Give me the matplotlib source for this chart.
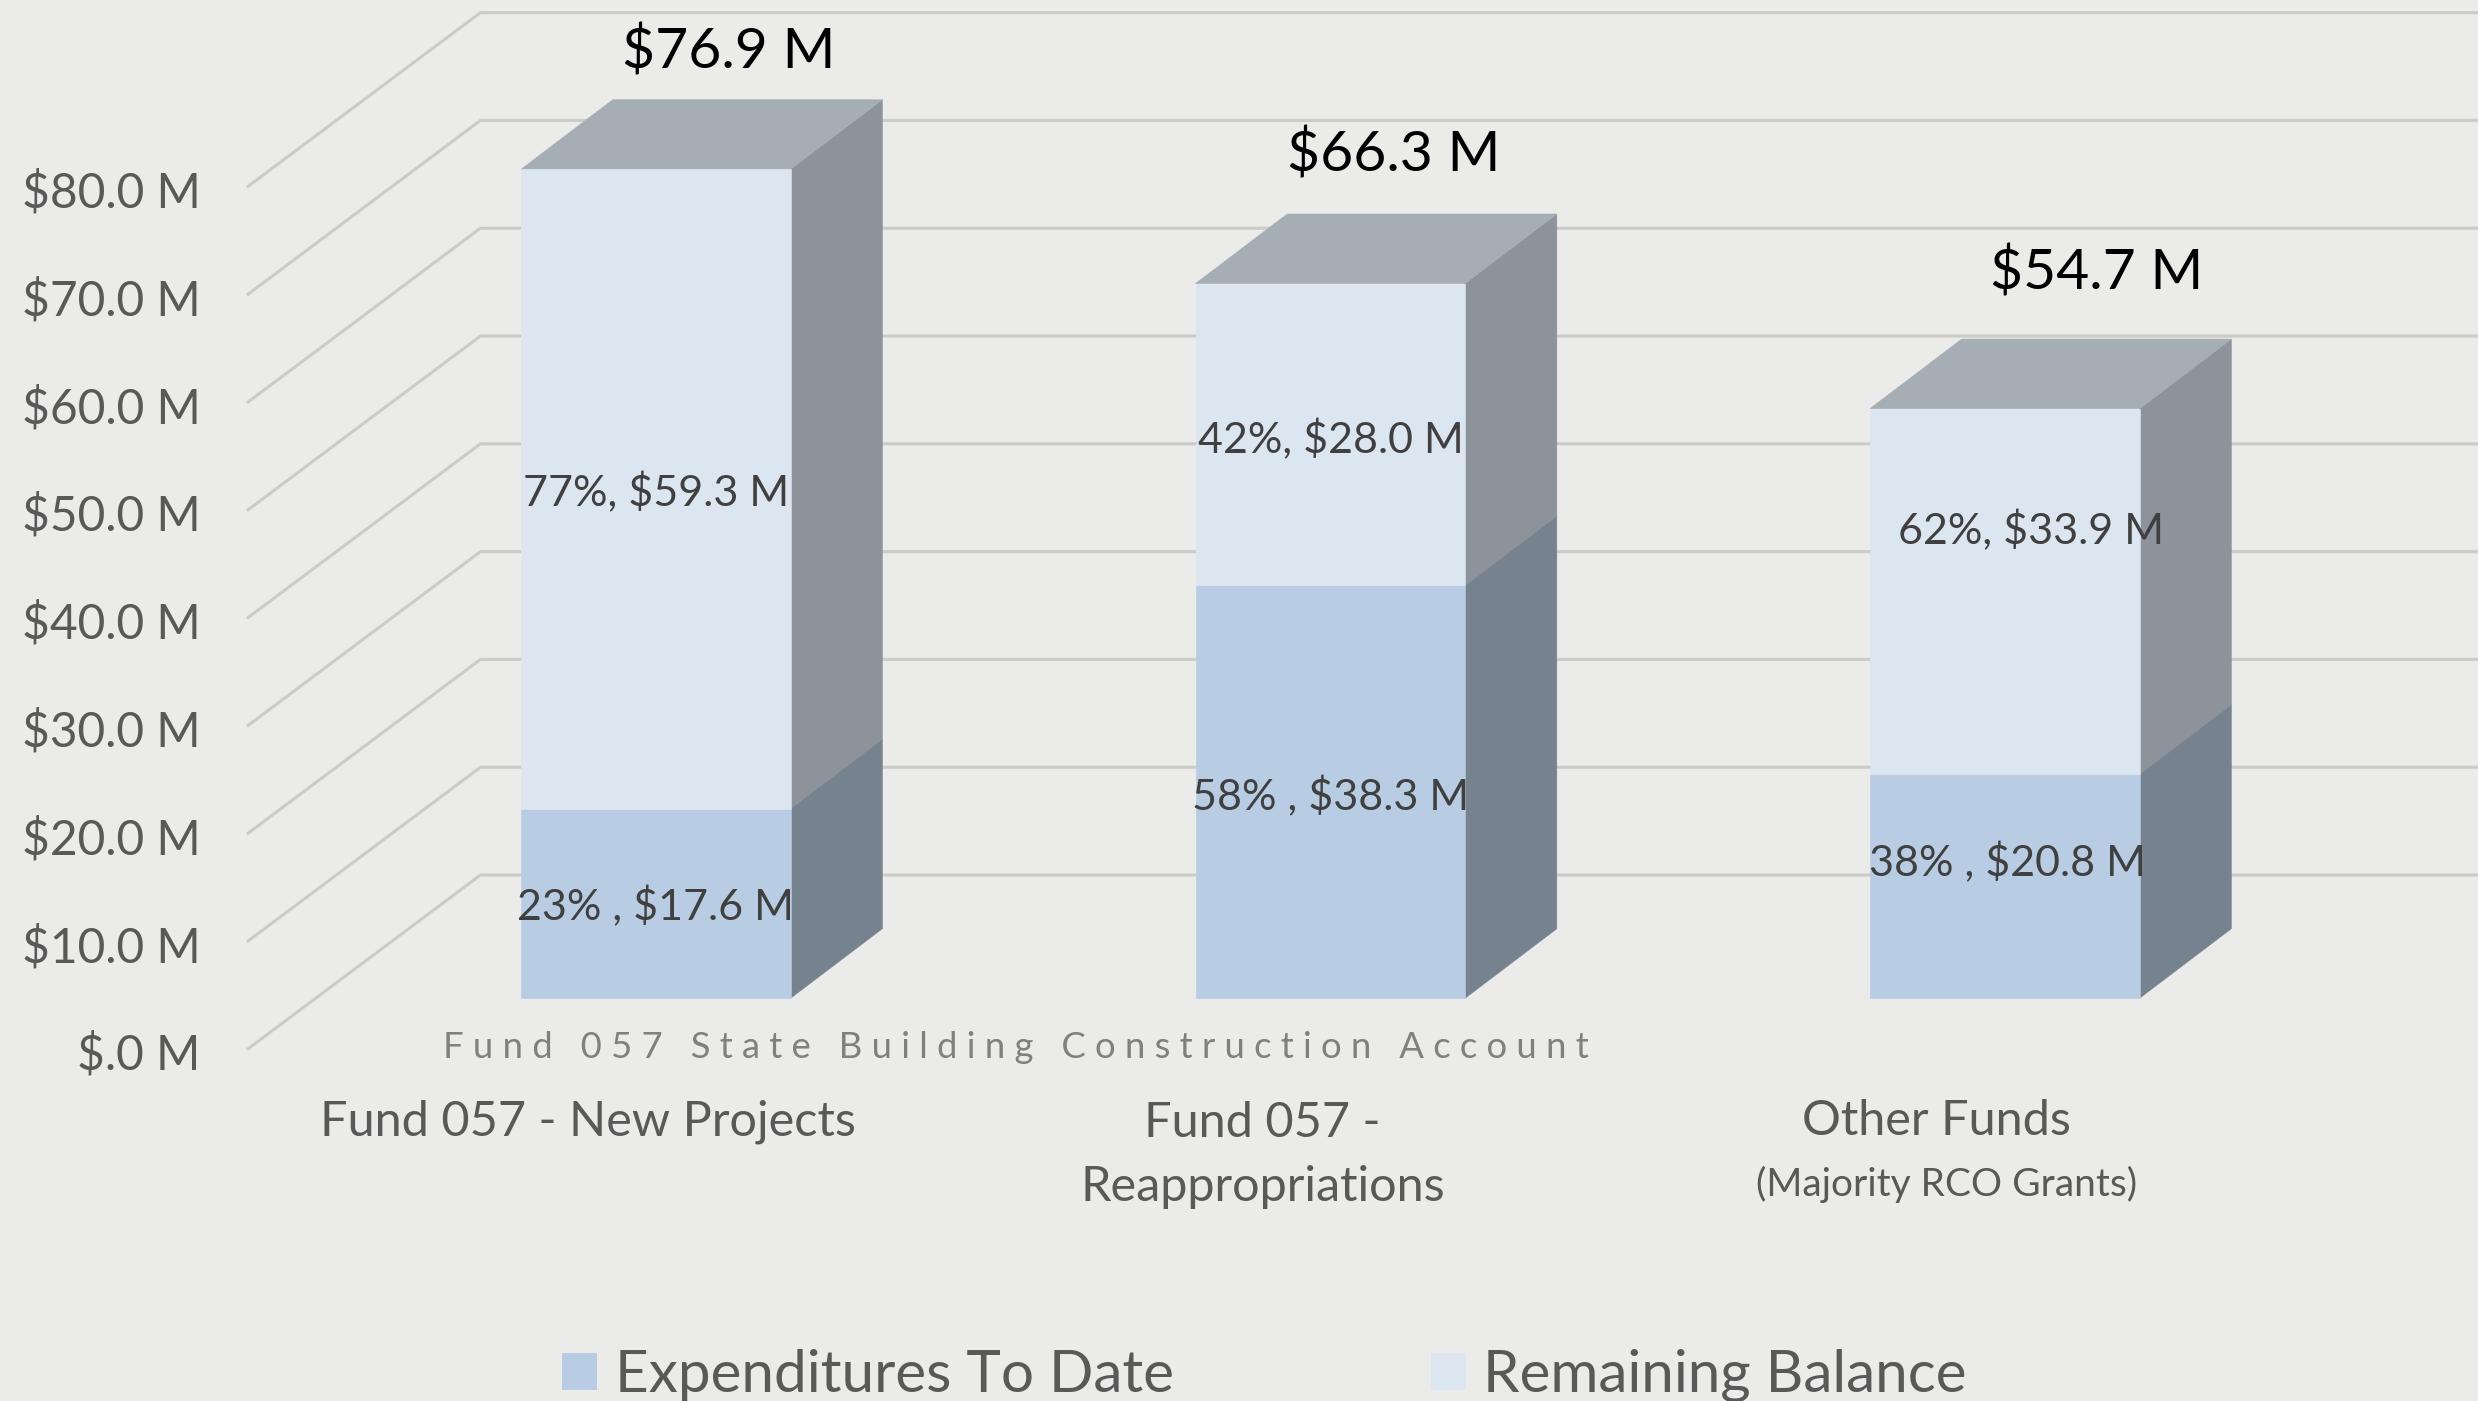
import matplotlib
matplotlib.use("Agg")
import matplotlib.pyplot as plt
from matplotlib.patches import Polygon, Patch

# ---- data ----
categories = ["Fund 057 - New Projects", "Fund 057 -\nReappropriations", "Other Funds"]
expenditures = [17.6, 38.3, 20.8]
remaining = [59.3, 28.0, 33.9]
totals = ["$76.9 M", "$66.3 M", "$54.7 M"]
exp_labels = ["23% , $17.6 M", "58% , $38.3 M", "38% , $20.8 M"]
rem_labels = ["77%, $59.3 M", "42%, $28.0 M", "62%, $33.9 M"]
tick_values = [0, 10, 20, 30, 40, 50, 60, 70, 80]
tick_labels = ["$.0 M", "$10.0 M", "$20.0 M", "$30.0 M", "$40.0 M",
               "$50.0 M", "$60.0 M", "$70.0 M", "$80.0 M"]
series_names = ["Expenditures To Date", "Remaining Balance"]
subtitle = "Fund 057 State Building Construction Account"
sub_note = "(Majority RCO Grants)"

# ---- styling ----
BG = "#ebebe9"
FRONT = ["#b8cce3", "#dce6f1"]
SIDE = ["#76838f", "#8c939a"]
TOP = "#a6aeb5"
GRID = "#cbcbc8"
FONT = ["Lato", "DejaVu Sans"]
plt.rcParams["font.family"] = FONT

W, H = 1568.0, 887.0  # layout reference units
X0, XSTEP = 415.0, 426.8
Y0, YK = 632.0, 6.825


def fx(px):
    return (px - X0) / XSTEP


def fv(py):
    return (Y0 - py) / YK


BAR_W = 170.6 / XSTEP
DX, DV = 58.0 / XSTEP, 44.0 / YK

fig = plt.figure(figsize=(24.78, 14.01), dpi=100, facecolor=BG)
ax = fig.add_axes([0, 0, 1, 1])
ax.set_xlim(fx(0), fx(W))
ax.set_ylim(fv(H), fv(0))
ax.axis("off")

# walls and gridlines
wx0, wx1 = fx(157), fx(304)
wv0, wv1 = fv(664), fv(554)
for v in tick_values:
    ax.plot([wx0, wx1, fx(W)], [wv0 + v, wv1 + v, wv1 + v], color=GRID, lw=2.2,
            solid_joinstyle="miter", zorder=1)


def face(pts, color, z):
    ax.add_patch(Polygon(pts, closed=True, facecolor=color, edgecolor=color, lw=0.4, zorder=z))


for i in range(len(categories)):
    l, r = i - BAR_W / 2, i + BAR_W / 2
    base = 0.0
    for k, vals in enumerate([expenditures, remaining]):
        top = base + vals[i]
        face([(r, base), (r + DX, base + DV), (r + DX, top + DV), (r, top)], SIDE[k], 3)
        face([(l, base), (r, base), (r, top), (l, top)], FRONT[k], 4)
        base = top
    face([(l, base), (r, base), (r + DX, base + DV), (l + DX, base + DV)], TOP, 3)


def t(px, py, s, size, color, ha="center", va="center", **kw):
    return ax.text(fx(px), fv(py), s, fontsize=size, color=color, ha=ha, va=va, zorder=6, **kw)


# tick labels
for v, s in zip(tick_values, tick_labels):
    ax.text(fx(127), fv(668) + v, s, fontsize=34.5, color="#595959", ha="right", va="center", zorder=6)

# data labels
exp_pos = [(415, 574), (842, 504), (1270, 546)]
rem_pos = [(415, 312), (842, 278), (1285, 336)]
for (px, py), s in zip(exp_pos, exp_labels):
    t(px, py, s, 31, "#404040")
for (px, py), s in zip(rem_pos, rem_labels):
    t(px, py, s, 31, "#404040")

# totals
tot_pos = [(461, 33), (882, 98), (1327, 173)]
for (px, py), s in zip(tot_pos, totals):
    t(px, py, s, 41, "#000000")

# category labels
cat_pos = [(372, 710), (799, 731), (1225, 710)]
for (px, py), s in zip(cat_pos, categories):
    t(px, py, s, 35, "#595959", linespacing=1.56)
t(1232, 750, sub_note, 28, "#595959")

# spaced subtitle
t(643, 663, "\u2009\u2009".join(subtitle), 26.3, "#808080")

# legend
handles = [Patch(facecolor=FRONT[0], edgecolor="none", label=series_names[0]),
           Patch(facecolor=FRONT[1], edgecolor="none", label=series_names[1])]
fig.legend(handles=handles, ncol=2, loc="center left",
           bbox_to_anchor=(359 / W - 0.002, 1 - 871 / H), frameon=False, fontsize=42,
           labelcolor="#595959", handlelength=0.6, handleheight=0.6,
           handletextpad=0.3, columnspacing=4.4, borderpad=0, borderaxespad=0)

fig.savefig("out.png", dpi=100, facecolor=BG)
